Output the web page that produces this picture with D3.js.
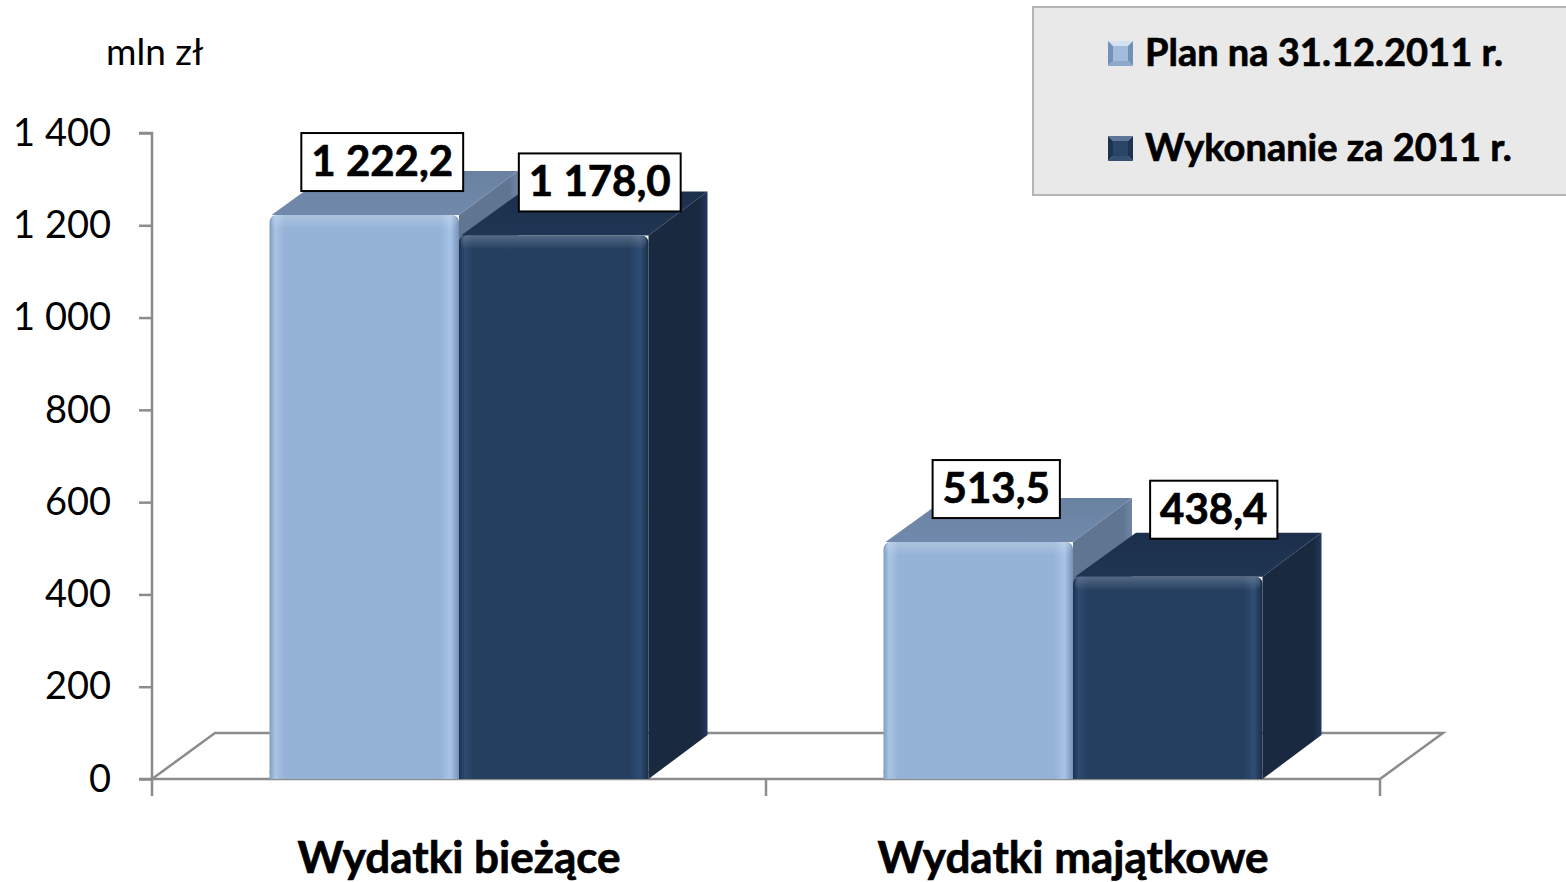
<!DOCTYPE html>
<html>
<head>
<meta charset="utf-8">
<script src="https://cdn.jsdelivr.net/npm/d3@7"></script>
<style>
  html, body { margin: 0; padding: 0; background: #ffffff; }
  svg { display: block; }
  text { font-family: Lato, "Open Sans", sans-serif; }
</style>
</head>
<body>
<svg id="chart" width="1566" height="882"></svg>
<script>
// ---- Data ----
const categories = ["Wydatki bieżące", "Wydatki majątkowe"];
const seriesNames = ["Plan na 31.12.2011 r.", "Wykonanie za 2011 r."];
const planValues = [1222.2, 513.5];
const actualValues = [1178.0, 438.4];
const yTicks = [0, 200, 400, 600, 800, 1000, 1200, 1400];
const valueLabels = [["1 222,2", "513,5"], ["1 178,0", "438,4"]];
const unitLabel = "mln zł";

const seriesValues = [planValues, actualValues];

// ---- Layout / style ----
const svg = d3.select("#chart");
const defs = svg.append("defs");

const axisLeft = 152, axisRight = 1380, yZero = 779, yTopPx = 133;
const floorDx = 63, floorDy = -46;
const barDx = 59, barDy = -44;
const axisColor = "#8c8c8c";

const y = d3.scaleLinear().domain([0, 1400]).range([yZero, yTopPx]);
const x = d3.scaleBand().domain(categories).range([axisLeft, axisRight]).padding(0);
const xs = d3.scaleBand().domain(d3.range(seriesNames.length))
  .range([0, x.bandwidth()]).paddingInner(0).paddingOuter(0.62);

const styles = [
  { front: "#95b3d7", edgeL: "#7f9cc2", hiL: "#a9c4e4", hiR: "#a7c3e6", edgeR: "#7692b8",
    top: "#718aab", topBack: "#6a82a2", side: "#5f7592", sideEdge: "#6e86a6",
    mTop: "#d5e2f2", mBottom: "#8ea8c9", mSide: "#7391b8", mCenter: "#a3bcdc" },
  { front: "#243f60", edgeL: "#1c3250", hiL: "#2d4a6f", hiR: "#2f4d73", edgeR: "#1a2e49",
    top: "#1f3553", topBack: "#1c304c", side: "#19293f", sideEdge: "#22375a",
    mTop: "#5c7598", mBottom: "#34506f", mSide: "#1d3352", mCenter: "#2a4568" }
];

styles.forEach((s, i) => {
  const g = defs.append("linearGradient").attr("id", "front" + i)
    .attr("x1", "0").attr("x2", "1").attr("y1", "0").attr("y2", "0");
  g.append("stop").attr("offset", "0").attr("stop-color", s.edgeL);
  g.append("stop").attr("offset", "0.03").attr("stop-color", s.hiL);
  g.append("stop").attr("offset", "0.08").attr("stop-color", s.front);
  g.append("stop").attr("offset", "0.9").attr("stop-color", s.front);
  g.append("stop").attr("offset", "0.955").attr("stop-color", s.hiR);
  g.append("stop").attr("offset", "1").attr("stop-color", s.edgeR);
  const gs = defs.append("linearGradient").attr("id", "side" + i)
    .attr("x1", "0").attr("x2", "1").attr("y1", "0").attr("y2", "0");
  gs.append("stop").attr("offset", "0").attr("stop-color", s.side);
  gs.append("stop").attr("offset", "0.85").attr("stop-color", s.side);
  gs.append("stop").attr("offset", "1").attr("stop-color", s.sideEdge);
  const gt = defs.append("linearGradient").attr("id", "top" + i)
    .attr("x1", "0").attr("x2", "0").attr("y1", "1").attr("y2", "0");
  gt.append("stop").attr("offset", "0").attr("stop-color", s.top);
  gt.append("stop").attr("offset", "1").attr("stop-color", s.topBack);
});
const bevel = defs.append("linearGradient").attr("id", "bevel")
  .attr("x1", "0").attr("x2", "0").attr("y1", "0").attr("y2", "1");
bevel.append("stop").attr("offset", "0").attr("stop-color", "#ffffff").attr("stop-opacity", 0.22);
bevel.append("stop").attr("offset", "1").attr("stop-color", "#ffffff").attr("stop-opacity", 0);

// ---- Floor and axes ----
svg.append("path")
  .attr("d", `M${axisLeft},${yZero} L${axisLeft + floorDx},${yZero + floorDy} L${axisRight + floorDx},${yZero + floorDy} L${axisRight},${yZero}`)
  .attr("fill", "none").attr("stroke", axisColor).attr("stroke-width", 2.5);

const yAxis = d3.axisLeft(y).tickValues(yTicks).tickSize(13).tickPadding(28)
  .tickFormat(d => d3.format(",")(d).replace(/,/g, " "));
const yg = svg.append("g").attr("transform", `translate(${axisLeft},0)`).call(yAxis);
yg.select(".domain").attr("stroke", axisColor).attr("stroke-width", 2.5)
  .attr("d", `M-13,${y(1400)}H0V${yZero}H-13`);
yg.selectAll(".tick line").attr("stroke", axisColor).attr("stroke-width", 2.5);
yg.selectAll(".tick text").attr("font-size", 38).attr("fill", "#000")
  .style("font-family", "Lato, sans-serif");

const xAxis = d3.axisBottom(x).tickSize(0).tickFormat("");
const xg = svg.append("g").attr("transform", `translate(0,${yZero})`).call(xAxis);
xg.select(".domain").attr("stroke", axisColor).attr("stroke-width", 2.5)
  .attr("d", `M${axisLeft},0H${axisRight}`);
const boundaries = [axisLeft].concat(categories.map(c => x(c) + x.bandwidth()));
xg.selectAll("line.sep").data(boundaries).join("line").attr("class", "sep")
  .attr("x1", d => d).attr("x2", d => d).attr("y1", 0).attr("y2", 17)
  .attr("stroke", axisColor).attr("stroke-width", 2.5);

const boldStroke = 0.7;
svg.append("g").selectAll("text").data(categories).join("text")
  .attr("x", d => x(d) + x.bandwidth() / 2)
  .attr("y", 873)
  .attr("text-anchor", "middle")
  .attr("font-size", 44).attr("font-weight", 700).attr("fill", "#000")
  .attr("stroke", "#000").attr("stroke-width", boldStroke)
  .text(d => d);

svg.append("text").attr("x", 106).attr("y", 65)
  .attr("font-size", 37).attr("fill", "#000").text(unitLabel);

// ---- Bars ----
const barsG = svg.append("g");
categories.forEach((cat, ci) => {
  seriesNames.forEach((sn, si) => {
    const v = seriesValues[si][ci];
    const bx = x(cat) + xs(si);
    const bw = xs.bandwidth();
    const yt = y(v);
    const g = barsG.append("g");
    g.append("path")
      .attr("d", `M${bx + 2},${yt} L${bx + bw},${yt} L${bx + bw + barDx},${yt + barDy} L${bx + barDx + 4},${yt + barDy} Z`)
      .attr("fill", `url(#top${si})`);
    g.append("path")
      .attr("d", `M${bx + bw},${yt} L${bx + bw + barDx},${yt + barDy} L${bx + bw + barDx},${yZero + barDy} L${bx + bw},${yZero} Z`)
      .attr("fill", `url(#side${si})`);
    g.append("rect").attr("x", bx).attr("y", yt).attr("width", bw).attr("height", yZero - yt)
      .attr("rx", 7).attr("fill", `url(#front${si})`);
    g.append("rect").attr("x", bx).attr("y", yZero - 8).attr("width", bw).attr("height", 8)
      .attr("fill", `url(#front${si})`);
    g.append("rect").attr("x", bx + 2).attr("y", yt).attr("width", bw - 4).attr("height", 14)
      .attr("rx", 6).attr("fill", "url(#bevel)");
  });
});

// ---- Value labels ----
const labelsG = svg.append("g");
const labelOffsets = [18, 46];
categories.forEach((cat, ci) => {
  seriesNames.forEach((sn, si) => {
    const v = seriesValues[si][ci];
    const cx = x(cat) + xs(si) + xs.bandwidth() / 2 + labelOffsets[si];
    const bottom = y(v) - 24 - (v < 500 ? 14 : 0);
    const g = labelsG.append("g");
    const t = g.append("text").attr("x", cx).attr("y", bottom - 15)
      .attr("text-anchor", "middle").attr("font-size", 42).attr("font-weight", 700)
      .attr("fill", "#000").attr("stroke", "#000").attr("stroke-width", boldStroke)
      .text(valueLabels[si][ci]);
    const tw = t.node().getComputedTextLength();
    g.insert("rect", "text").attr("x", cx - tw / 2 - 10).attr("y", bottom - 58)
      .attr("width", tw + 20).attr("height", 58)
      .attr("fill", "#fff").attr("stroke", "#000").attr("stroke-width", 2);
  });
});

// ---- Legend ----
const lg = svg.append("g");
lg.append("rect").attr("x", 1033).attr("y", 7).attr("width", 540).attr("height", 188)
  .attr("fill", "#e9e9e9").attr("stroke", "#b4b4b4").attr("stroke-width", 2);
const legendY = [53, 148];
seriesNames.forEach((sn, si) => {
  const s = styles[si];
  const mx = 1108, my = legendY[si] - 12, ms = 25, inset = 5;
  const item = lg.append("g");
  const c = [mx + ms / 2, my + ms / 2];
  item.append("polygon").attr("points", `${mx},${my} ${mx + ms},${my} ${c[0]},${c[1]}`).attr("fill", s.mTop);
  item.append("polygon").attr("points", `${mx},${my + ms} ${mx + ms},${my + ms} ${c[0]},${c[1]}`).attr("fill", s.mBottom);
  item.append("polygon").attr("points", `${mx},${my} ${mx},${my + ms} ${c[0]},${c[1]}`).attr("fill", s.mSide);
  item.append("polygon").attr("points", `${mx + ms},${my} ${mx + ms},${my + ms} ${c[0]},${c[1]}`).attr("fill", s.mSide);
  item.append("rect").attr("x", mx + inset).attr("y", my + inset).attr("width", ms - 2 * inset).attr("height", ms - 2 * inset)
    .attr("fill", s.mCenter);
  item.append("text").attr("x", 1145).attr("y", legendY[si] + 13)
    .attr("font-size", 38).attr("font-weight", 700).attr("fill", "#000")
    .attr("stroke", "#000").attr("stroke-width", boldStroke).text(sn);
});
</script>
</body>
</html>
